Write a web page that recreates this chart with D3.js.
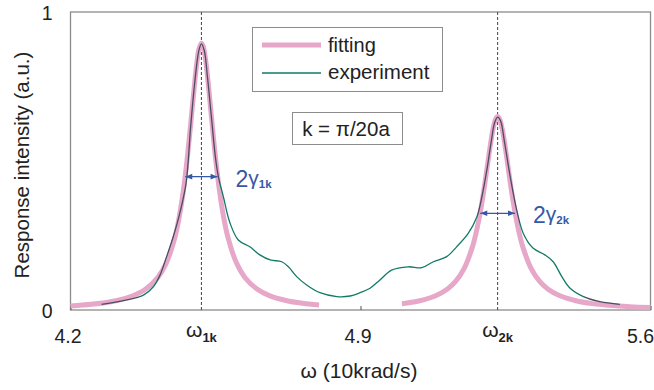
<!DOCTYPE html>
<html>
<head>
<meta charset="utf-8">
<script src="https://cdn.jsdelivr.net/npm/d3@7"></script>
<style>
  body { margin: 0; background: #fff; }
  text { font-family: "Liberation Sans", Arial, sans-serif; }
</style>
</head>
<body>
<div id="chart"></div>
<script>
// fitted Lorentzians
const fit1W = [4.20, 4.25, 4.30, 4.34, 4.38, 4.41, 4.43, 4.45, 4.46, 4.47, 4.48, 4.49, 4.50, 4.505, 4.51, 4.516, 4.52, 4.525, 4.53, 4.54, 4.55, 4.56, 4.57, 4.58, 4.60, 4.62, 4.65, 4.68, 4.72, 4.76, 4.80];
const fit1I = [0.0136, 0.0190, 0.0285, 0.0423, 0.0686, 0.1077, 0.154, 0.233, 0.294, 0.377, 0.486, 0.622, 0.767, 0.830, 0.875, 0.895, 0.886, 0.850, 0.794, 0.651, 0.511, 0.396, 0.309, 0.244, 0.160, 0.111, 0.0705, 0.0484, 0.0319, 0.0225, 0.0167];
const fit2W = [5.00, 5.04, 5.08, 5.11, 5.13, 5.15, 5.17, 5.18, 5.19, 5.20, 5.21, 5.22, 5.226, 5.231, 5.236, 5.242, 5.252, 5.262, 5.272, 5.282, 5.292, 5.312, 5.332, 5.352, 5.38, 5.42, 5.46, 5.50, 5.55, 5.60];
const fit2I = [0.0211, 0.0303, 0.0472, 0.0707, 0.0969, 0.139, 0.211, 0.265, 0.335, 0.422, 0.521, 0.608, 0.640, 0.649, 0.640, 0.608, 0.521, 0.422, 0.335, 0.265, 0.211, 0.139, 0.0969, 0.0707, 0.0484, 0.0310, 0.0214, 0.0157, 0.0112, 0.0084];

// measured response
const expW = [4.275, 4.336, 4.376, 4.400, 4.416, 4.432, 4.448, 4.464, 4.479, 4.49, 4.50, 4.51, 4.516, 4.523, 4.53, 4.54, 4.55, 4.557, 4.569, 4.585, 4.605, 4.633, 4.657, 4.682, 4.710, 4.726, 4.746, 4.770, 4.802, 4.843, 4.875, 4.899, 4.923, 4.947, 4.975, 5.015, 5.048, 5.076, 5.108, 5.132, 5.160, 5.181, 5.193, 5.205, 5.215, 5.224, 5.231, 5.238, 5.248, 5.261, 5.277, 5.293, 5.317, 5.345, 5.365, 5.386, 5.406, 5.438, 5.478, 5.526];
const expI = [0.019, 0.034, 0.050, 0.078, 0.117, 0.179, 0.246, 0.326, 0.426, 0.615, 0.765, 0.872, 0.893, 0.870, 0.790, 0.650, 0.510, 0.447, 0.380, 0.292, 0.235, 0.212, 0.185, 0.168, 0.162, 0.145, 0.112, 0.084, 0.058, 0.045, 0.047, 0.058, 0.073, 0.101, 0.134, 0.145, 0.142, 0.162, 0.179, 0.212, 0.257, 0.313, 0.380, 0.470, 0.560, 0.630, 0.647, 0.635, 0.560, 0.450, 0.336, 0.257, 0.207, 0.185, 0.162, 0.112, 0.073, 0.045, 0.028, 0.019];

// stretches where the measured line lies over the fit
const overlapW = [[4.27, 4.365], [4.41, 4.560], [5.182, 5.285], [5.44, 5.53]];

const xTicks = [4.2, 4.9, 5.6];
const yTicks = [0, 1];
const peakW = [4.516, 5.231];
const peakI = [0.895, 0.649];
const halfWidth = [0.039, 0.042];
const peakNames = ['1k', '2k'];

const width = 654, height = 390;
const margin = { top: 12, right: 3.5, bottom: 80, left: 70.5 };

const svg = d3.select('#chart').append('svg')
  .attr('width', width)
  .attr('height', height);

const x = d3.scaleLinear().domain([4.2, 5.6]).range([margin.left, width - margin.right]);
const y = d3.scaleLinear().domain([0, 1]).range([height - margin.bottom, margin.top]);

const pink = '#e6a7c8', teal = '#117a66', dark = '#4a4d63', blue = '#3558a8';

const defs = svg.append('defs');
const grad = defs.append('linearGradient')
  .attr('id', 'expGrad')
  .attr('gradientUnits', 'userSpaceOnUse')
  .attr('x1', 0).attr('x2', width).attr('y1', 0).attr('y2', 0);
overlapW.forEach(r => {
  const a = x(r[0]) / width, b = x(r[1]) / width;
  grad.append('stop').attr('offset', a).attr('stop-color', teal);
  grad.append('stop').attr('offset', a).attr('stop-color', dark);
  grad.append('stop').attr('offset', b).attr('stop-color', dark);
  grad.append('stop').attr('offset', b).attr('stop-color', teal);
});

['arrS', 'arrE'].forEach((id, i) => {
  defs.append('marker')
    .attr('id', id)
    .attr('viewBox', '0 0 10 10')
    .attr('refX', i ? 10 : 0).attr('refY', 5)
    .attr('markerWidth', 9).attr('markerHeight', 7)
    .attr('markerUnits', 'userSpaceOnUse')
    .attr('orient', 'auto')
    .append('path')
    .attr('d', i ? 'M0,1L10,5L0,9Z' : 'M10,1L0,5L10,9Z')
    .attr('fill', blue);
});

// frame
svg.append('rect')
  .attr('x', x(4.2)).attr('y', y(1))
  .attr('width', x(5.6) - x(4.2)).attr('height', y(0) - y(1))
  .attr('fill', 'none')
  .attr('stroke', '#8c8c8c')
  .attr('stroke-width', 1.3);

// X axis
const xAxis = svg.append('g')
  .attr('transform', 'translate(0,' + y(0) + ')')
  .call(d3.axisBottom(x).tickValues(xTicks).tickSize(-4).tickFormat(d3.format('.1f')));
xAxis.select('.domain').remove();
xAxis.selectAll('line').attr('stroke', '#555');
xAxis.selectAll('text')
  .attr('y', 33).attr('dy', 0).attr('dx', -3)
  .attr('fill', '#222')
  .style('font-size', '19.5px')
  .style('font-family', '"Liberation Sans", Arial, sans-serif');
// last label sits at the window edge; keep it inside
xAxis.selectAll('text').filter(d => d === 5.6)
  .attr('text-anchor', 'end').attr('dx', 0).attr('x', width - margin.right - x(5.6) + 3);

// Y axis
const yAxis = svg.append('g')
  .attr('transform', 'translate(' + x(4.2) + ',0)')
  .call(d3.axisLeft(y).tickValues(yTicks).tickSize(0).tickFormat(d3.format('d')));
yAxis.select('.domain').remove();
yAxis.selectAll('text')
  .attr('x', -18).attr('dy', '0.36em')
  .attr('fill', '#222')
  .style('font-size', '19.5px')
  .style('font-family', '"Liberation Sans", Arial, sans-serif');

// dashed peak lines
svg.selectAll('.peak')
  .data(peakW)
  .enter()
  .append('line')
  .attr('x1', d => x(d)).attr('x2', d => x(d))
  .attr('y1', y(1)).attr('y2', y(0))
  .attr('stroke', '#444')
  .attr('stroke-width', 1)
  .attr('stroke-dasharray', '3,2');

const line = d3.line()
  .x(d => x(d[0]))
  .y(d => y(d[1]))
  .curve(d3.curveCatmullRom);

[[fit1W, fit1I], [fit2W, fit2I]].forEach(s => {
  svg.append('path')
    .datum(d3.zip(s[0], s[1]))
    .attr('d', line)
    .attr('fill', 'none')
    .attr('stroke', pink)
    .attr('stroke-width', 5);
});

svg.append('path')
  .datum(d3.zip(expW, expI))
  .attr('d', line)
  .attr('fill', 'none')
  .attr('stroke', 'url(#expGrad)')
  .attr('stroke-width', 1.3);

// half-width arrows
peakW.forEach((w, i) => {
  svg.append('line')
    .attr('x1', x(w - halfWidth[i])).attr('x2', x(w + halfWidth[i]))
    .attr('y1', y(peakI[i] / 2)).attr('y2', y(peakI[i] / 2))
    .attr('stroke', blue)
    .attr('stroke-width', 1.2)
    .attr('marker-start', 'url(#arrS)')
    .attr('marker-end', 'url(#arrE)');

  const g = svg.append('text')
    .attr('x', x(w + halfWidth[i]) + 18)
    .attr('y', y(peakI[i] / 2) + 10)
    .attr('fill', blue)
    .style('font-size', '23px');
  g.append('tspan').text('2');
  g.append('tspan').attr('dy', -2).style('font-size', '21px').text('γ');
  g.append('tspan').attr('dy', 3).style('font-size', '11.5px').style('font-weight', 'bold').text(peakNames[i]);

  const o = svg.append('text')
    .attr('x', x(w))
    .attr('y', 337)
    .attr('text-anchor', 'middle')
    .attr('fill', '#222')
    .style('font-size', '21px');
  o.append('tspan').text('ω');
  o.append('tspan').attr('dy', 5).style('font-size', '13px').style('font-weight', 'bold').text(peakNames[i]);
});

// legend
svg.append('rect')
  .attr('x', 252.5).attr('y', 27.5).attr('width', 190).attr('height', 64)
  .attr('fill', '#fff').attr('stroke', '#8c8c8c').attr('stroke-width', 1);
svg.append('line')
  .attr('x1', 262).attr('x2', 321).attr('y1', 45).attr('y2', 45)
  .attr('stroke', pink).attr('stroke-width', 5);
svg.append('line')
  .attr('x1', 262).attr('x2', 321).attr('y1', 73).attr('y2', 73)
  .attr('stroke', teal).attr('stroke-width', 1.3);
svg.append('text').attr('x', 328).attr('y', 52).attr('fill', '#222').style('font-size', '20px').text('fitting');
svg.append('text').attr('x', 328).attr('y', 79).attr('fill', '#222').style('font-size', '20.5px').text('experiment');

// wavevector box
svg.append('rect')
  .attr('x', 292.5).attr('y', 112.5).attr('width', 110).attr('height', 32)
  .attr('fill', '#fff').attr('stroke', '#8c8c8c').attr('stroke-width', 1);
svg.append('text')
  .attr('x', 346).attr('y', 136)
  .attr('text-anchor', 'middle')
  .attr('fill', '#222')
  .style('font-size', '20.5px')
  .text('k = π/20a');

// axis titles
svg.append('text')
  .attr('x', 359).attr('y', 378)
  .attr('text-anchor', 'middle')
  .attr('fill', '#222')
  .style('font-size', '21px')
  .text('ω (10krad/s)');

svg.append('text')
  .attr('transform', 'translate(29,165) rotate(-90)')
  .attr('text-anchor', 'middle')
  .attr('fill', '#222')
  .style('font-size', '20.5px')
  .text('Response intensity (a.u.)');
</script>
</body>
</html>
